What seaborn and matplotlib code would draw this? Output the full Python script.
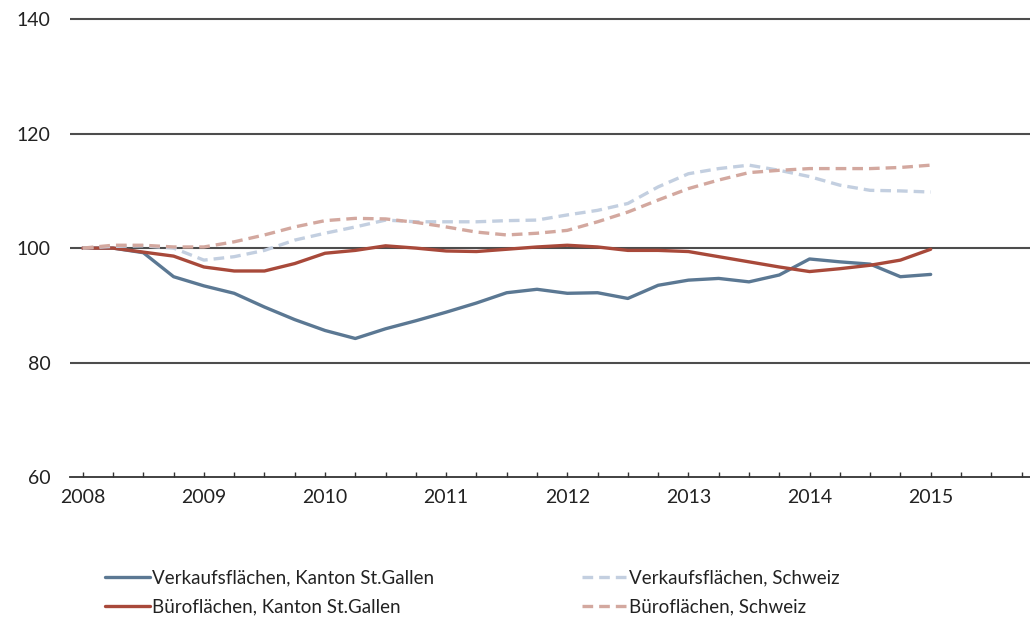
import numpy as np
import pandas as pd
import matplotlib
matplotlib.use("Agg")
import matplotlib.pyplot as plt
from matplotlib.ticker import MultipleLocator
import seaborn as sns

# Quarterly index values (2008 Q1 = 100)
quarters = np.arange(2008, 2015.01, 0.25)

verkauf_sg = [100.0, 100.0, 99.2, 95.0, 93.4, 92.1, 89.7, 87.5, 85.6, 84.2,
              85.9, 87.3, 88.8, 90.4, 92.2, 92.8, 92.1, 92.2, 91.2, 93.5,
              94.4, 94.7, 94.1, 95.3, 98.1, 97.6, 97.2, 95.0, 95.4]
buero_sg = [100.0, 100.0, 99.3, 98.6, 96.7, 96.0, 96.0, 97.3, 99.1, 99.6,
            100.4, 100.0, 99.5, 99.4, 99.8, 100.2, 100.5, 100.2, 99.6, 99.6,
            99.4, 98.5, 97.6, 96.7, 95.9, 96.4, 97.0, 97.9, 99.8]
verkauf_ch = [100.0, 100.3, 100.4, 100.0, 97.9, 98.5, 99.6, 101.4, 102.6, 103.7,
              104.9, 104.6, 104.6, 104.6, 104.8, 104.9, 105.8, 106.6, 107.8, 110.7,
              113.0, 113.9, 114.5, 113.6, 112.5, 111.0, 110.1, 110.0, 109.8]
buero_ch = [100.0, 100.5, 100.5, 100.2, 100.2, 101.1, 102.3, 103.7, 104.8, 105.2,
            105.1, 104.5, 103.7, 102.8, 102.3, 102.6, 103.1, 104.6, 106.3, 108.4,
            110.4, 111.9, 113.2, 113.6, 113.9, 113.9, 113.9, 114.1, 114.5]

labels = ["Verkaufsflächen, Kanton St.Gallen", "Büroflächen, Kanton St.Gallen",
          "Verkaufsflächen, Schweiz", "Büroflächen, Schweiz"]
colors = ["#5b7893", "#a8493a", "#c3cfe0", "#d3a89f"]
styles = ["-", "-", "--", "--"]
year_ticks = list(range(2008, 2016))
y_ticks = [60, 80, 100, 120, 140]

sns.set_theme(style="white")
plt.rcParams["font.family"] = ["Lato", "DejaVu Sans"]

fig = plt.figure(figsize=(10.30, 6.21), dpi=100)
ax = fig.add_axes([0.068, 0.232, 0.932, 0.748])

series = [verkauf_sg, buero_sg, verkauf_ch, buero_ch]
handles = []
for vals, lab, col, ls in zip(series, labels, colors, styles):
    df = pd.DataFrame({"Quartal": quarters, "Index": vals})
    sns.lineplot(data=df, x="Quartal", y="Index", ax=ax, color=col,
                 linewidth=2.4, label=lab, legend=False)
    line = ax.lines[-1]
    line.set_linestyle(ls)
    if ls == "--":
        line.set_dashes((3.2, 1.8))
    handles.append(line)

ax.set_ylim(60, 141.2)
ax.set_xlim(2007.895, 2015.82)
ax.set_yticks(y_ticks)
ax.set_xticks(year_ticks)
ax.xaxis.set_minor_locator(MultipleLocator(0.25))
ax.set_xticklabels([str(y) for y in year_ticks])
ax.set_xlabel("")
ax.set_ylabel("")

for v in y_ticks[1:]:
    ax.axhline(v, color="#4d4d4d", linewidth=1.5, zorder=0)

for s in ["top", "right", "left"]:
    ax.spines[s].set_visible(False)
ax.spines["bottom"].set_color("#333333")
ax.spines["bottom"].set_linewidth(1.3)

ax.tick_params(axis="y", length=0, pad=14, labelsize=14, labelcolor="#222222")
ax.tick_params(axis="x", which="both", direction="in", length=3.5, width=1,
               color="#333333", bottom=True, pad=9, labelsize=14, labelcolor="#222222")

leg = fig.legend(handles=handles, labels=labels, ncol=2, loc="upper left",
                 bbox_to_anchor=(0.102, 0.083), frameon=False, fontsize=13.5,
                 handlelength=2.4, handletextpad=0.1, columnspacing=7.9,
                 labelspacing=0.62, borderaxespad=0, borderpad=0)
for t in leg.get_texts():
    t.set_color("#222222")

fig.savefig("out.png", dpi=100, facecolor="white")
